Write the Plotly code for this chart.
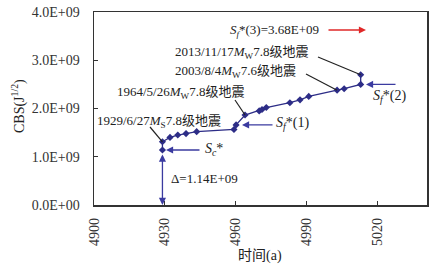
import plotly.graph_objects as go

# ---- data ----
years = [4929, 4929, 4932.2, 4935.5, 4939, 4943.5, 4959.3, 4960.2, 4964,
         4970, 4971.2, 4973, 4983, 4987.3, 4991, 5003, 5006, 5013, 5013]
cbs = [1.14, 1.31, 1.40, 1.45, 1.48, 1.52, 1.565, 1.66, 1.865,
       1.95, 1.98, 2.02, 2.12, 2.18, 2.25, 2.38, 2.41, 2.50, 2.70]  # x1e9
cbs_scale = 1e9

x_ticks = [4900, 4930, 4960, 4990, 5020]
y_ticks = [0, 1e9, 2e9, 3e9, 4e9]
y_tick_labels = ["0.0E+00", "1.0E+09", "2.0E+09", "3.0E+09", "4.0E+09"]

events = ["1929/6/27<i>M</i><sub>S</sub>7.8级地震",
          "1964/5/26<i>M</i><sub>W</sub>7.8级地震",
          "2003/8/4<i>M</i><sub>W</sub>7.6级地震",
          "2013/11/17<i>M</i><sub>W</sub>7.8级地震"]
event_idx = [1, 8, 15, 18]   # index in series of each event point

sc_value = 1.14e9
sf1_value = 1.66e9
sf2_value = 2.50e9
sf3_label = "3.68E+09"
delta_label = "1.14E+09"

# ---- layout geometry (page pixels; body margin removed by post_script) ----
W, H = 437, 267
PL, PR, PT, PB = 94, 427, 12, 205          # plot box in page pixels
L, T = PL, PT
R, B = W - PR, H - PB
PW, PH = PR - PL, PB - PT
x_range = [4900, 4900 + PW / 2.36]
y_range = [0, 4e9]

def px2x(px):
    return x_range[0] + (px - PL) / PW * (x_range[1] - x_range[0])

def px2y(py):
    return y_range[0] + (PB - py) / PH * (y_range[1] - y_range[0])

def px2paper(px, py):
    return (px - PL) / PW, (PB - py) / PH

FONT = "Liberation Serif, Times New Roman, Noto Sans CJK SC"
LINE = "#2d2d87"
ARROW = "#3b3ba0"
TXT = "#222"

yv = [v * cbs_scale for v in cbs]

fig = go.Figure()
fig.add_trace(go.Scatter(
    x=years, y=yv, mode="lines+markers",
    line=dict(color=LINE, width=1.3),
    marker=dict(symbol="diamond", size=5.5, color=LINE),
    showlegend=False, hoverinfo="skip"))

annotations = []
shapes = []

def label(px, py, text, size=13, angle=0, ref="data"):
    if ref == "data":
        x, y, xr, yr = px2x(px), px2y(py), "x", "y"
    else:
        (x, y), xr, yr = px2paper(px, py), "paper", "paper"
    return dict(x=x, y=y, xref=xr, yref=yr, text=text, showarrow=False,
                xanchor="center", yanchor="middle", textangle=angle,
                font=dict(family=FONT, size=size, color=TXT))

# event labels with leader lines
label_pos = [(159, 121), (180, 92), (235, 71.5), (241, 52)]
leader_start = [(150, 127), (235, 100), (306, 74), (318, 57)]
for txt, idx, (tx, ty), (sx, sy) in zip(events, event_idx, label_pos, leader_start):
    annotations.append(label(tx, ty, txt))
    shapes.append(dict(type="line", xref="x", yref="y",
                       x0=px2x(sx), y0=px2y(sy), x1=years[idx], y1=yv[idx],
                       line=dict(color=TXT, width=1.2)))

def arrow(xh, yh, xt, yt, color, both=False, standoff=0, startstandoff=0):
    d = dict(x=xh, y=yh, ax=xt, ay=yt, xref="x", yref="y", axref="x", ayref="y",
             text="", showarrow=True, arrowhead=2, arrowsize=1.1, arrowwidth=1.3,
             arrowcolor=color, standoff=standoff)
    if both:
        d.update(arrowside="end+start", startarrowhead=2, startarrowsize=1.1,
                 startstandoff=startstandoff)
    return d

# Sc*
annotations.append(arrow(px2x(166), sc_value, px2x(201), sc_value, ARROW))
annotations.append(label(214, 149, "<i>S</i><sub><i>c</i></sub>*", 14))
# Delta
annotations.append(arrow(years[0], 0, years[0], sc_value, ARROW, both=True,
                         startstandoff=3))
annotations.append(label(204, 178, "Δ=" + delta_label))
# Sf*(1)
annotations.append(arrow(px2x(242), sf1_value, px2x(274), sf1_value, ARROW))
annotations.append(label(292, 123, "<i>S</i><sub><i>f</i></sub>*(1)", 14))
# Sf*(2)
annotations.append(arrow(px2x(366), sf2_value, px2x(397), sf2_value, ARROW))
annotations.append(label(389, 96, "<i>S</i><sub><i>f</i></sub>*(2)", 14))
# Sf*(3)
annotations.append(arrow(px2x(366), px2y(30), px2x(327), px2y(30), "#e02828"))
annotations.append(label(274, 30, "<i>S</i><sub><i>f</i></sub>*(3)=" + sf3_label))

# axis titles
annotations.append(label(19, 106, "CBS(J<sup>1/2</sup>)", 14, angle=-90, ref="paper"))
annotations.append(label(260, 256, "时间(a)", 14, ref="paper"))

fig.update_layout(
    width=W, height=H,
    margin=dict(l=L, r=R, t=T, b=B, pad=0, autoexpand=False),
    paper_bgcolor="white", plot_bgcolor="white",
    annotations=annotations, shapes=shapes,
    xaxis=dict(range=x_range, tickvals=x_ticks, ticktext=[str(v) for v in x_ticks],
               tickangle=-90, ticks="inside", ticklen=4, tickcolor="#333",
               showline=True, linecolor="#333", linewidth=1.5, mirror=True,
               showgrid=False, zeroline=False, ticklabelstandoff=6, automargin=False,
               ticklabeloverflow="allow",
               tickfont=dict(family=FONT, size=14, color="#333")),
    yaxis=dict(range=y_range, tickvals=y_ticks, ticktext=y_tick_labels,
               ticks="inside", ticklen=4, tickcolor="#333",
               showline=True, linecolor="#333", linewidth=1.5, mirror=True,
               showgrid=False, zeroline=False, ticklabelstandoff=10, automargin=False,
               ticklabeloverflow="allow",
               tickfont=dict(family=FONT, size=14, color="#333")),
)

fig.write_html("out.html",
               config={"displayModeBar": False, "staticPlot": True},
               post_script="document.body.style.margin='0px';"
                           "document.body.style.overflow='hidden';")
